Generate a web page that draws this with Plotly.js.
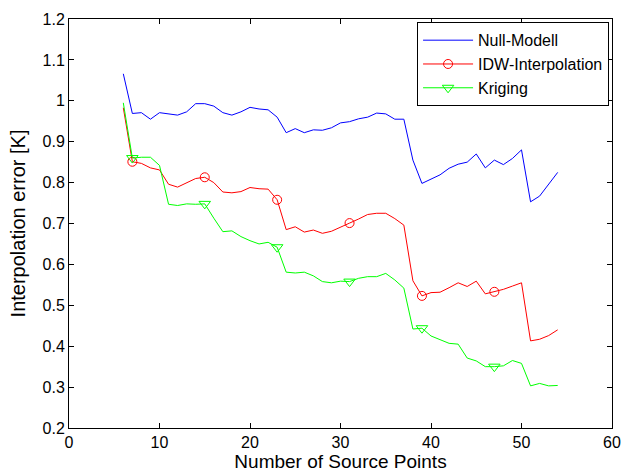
<!DOCTYPE html>
<html>
<head>
<meta charset="utf-8">
<script src="https://cdn.plot.ly/plotly-3.0.1.min.js"></script>
<style>html,body{margin:0;padding:0;background:#fff;}#chart{width:625px;height:473px;}</style>
</head>
<body>
<div id="chart"></div>
<script>
var sourcePoints = [6,7,8,9,10,11,12,13,14,15,16,17,18,19,20,21,22,23,24,25,26,27,28,29,30,31,32,33,34,35,36,37,38,39,40,41,42,43,44,45,46,47,48,49,50,51,52,53,54];
var nullModell = [1.066,0.969,0.971,0.955,0.971,0.968,0.965,0.973,0.993,0.993,0.987,0.971,0.965,0.973,0.984,0.980,0.978,0.960,0.922,0.932,0.922,0.929,0.928,0.934,0.946,0.949,0.956,0.960,0.970,0.968,0.955,0.955,0.855,0.798,0.808,0.819,0.835,0.845,0.850,0.870,0.836,0.855,0.844,0.859,0.880,0.753,0.767,0.796,0.825];
var idw = [0.983,0.851,0.847,0.836,0.831,0.796,0.789,0.800,0.810,0.813,0.800,0.777,0.775,0.778,0.788,0.785,0.784,0.758,0.685,0.692,0.679,0.684,0.676,0.681,0.692,0.701,0.711,0.722,0.725,0.725,0.712,0.696,0.560,0.523,0.531,0.532,0.543,0.555,0.546,0.559,0.528,0.533,0.539,0.547,0.555,0.413,0.417,0.426,0.440];
var kriging = [0.995,0.860,0.862,0.862,0.842,0.747,0.744,0.748,0.747,0.748,0.713,0.680,0.682,0.668,0.658,0.650,0.654,0.642,0.581,0.579,0.581,0.572,0.558,0.555,0.559,0.558,0.566,0.570,0.570,0.578,0.562,0.542,0.442,0.444,0.425,0.415,0.407,0.405,0.371,0.364,0.350,0.350,0.352,0.365,0.358,0.303,0.309,0.303,0.304];
var markerPoints = [7,15,23,31,39,47];
var seriesNames = ['Null-Modell','IDW-Interpolation','Kriging'];
var xTicks = [0,10,20,30,40,50,60];
var yTicks = [0.2,0.3,0.4,0.5,0.6,0.7,0.8,0.9,1,1.1,1.2];

function pick(arr){ return markerPoints.map(function(p){ return arr[sourcePoints.indexOf(p)]; }); }

var BLUE='#0000ff', RED='#ff0000', GREEN='#00ff00';
var traces = [
  {x:sourcePoints, y:nullModell, mode:'lines', line:{color:BLUE,width:1}, name:seriesNames[0], showlegend:true},
  {x:sourcePoints, y:idw, mode:'lines', line:{color:RED,width:1}, showlegend:false, hoverinfo:'skip'},
  {x:markerPoints, y:pick(idw), mode:'markers', marker:{symbol:'circle-open',size:9,color:RED,line:{width:1}}, showlegend:false},
  {x:[null], y:[null], mode:'lines+markers', line:{color:RED,width:1}, marker:{symbol:'circle-open',size:9,color:RED,line:{width:1}}, name:seriesNames[1]},
  {x:sourcePoints, y:kriging, mode:'lines', line:{color:GREEN,width:1}, showlegend:false, hoverinfo:'skip'},
  {x:markerPoints, y:pick(kriging), mode:'markers', marker:{symbol:'triangle-down-open',size:10,color:GREEN,line:{width:1}}, showlegend:false},
  {x:[null], y:[null], mode:'lines+markers', line:{color:GREEN,width:1}, marker:{symbol:'triangle-down-open',size:10,color:GREEN,line:{width:1}}, name:seriesNames[2]}
];

var axisCommon = {
  showgrid:false, zeroline:false, showline:true, linecolor:'#000', linewidth:1,
  mirror:'ticks', ticks:'inside', ticklen:5, tickcolor:'#000', tickwidth:1,
  tickfont:{family:'Liberation Sans, Arial, sans-serif', size:16, color:'#000'}
};
var layout = {
  width:625, height:473,
  margin:{l:69, r:13, t:19, b:45},
  paper_bgcolor:'#fff', plot_bgcolor:'#fff',
  font:{family:'Liberation Sans, Arial, sans-serif', color:'#000'},
  xaxis: Object.assign({}, axisCommon, {
    range:[0,60], tickvals:xTicks, ticktext:xTicks.map(String),
    title:{text:'Number of Source Points', font:{size:19, color:'#000'}, standoff:4}
  }),
  yaxis: Object.assign({}, axisCommon, {
    range:[0.2,1.2], tickvals:yTicks, ticktext:yTicks.map(String),
    title:{text:'Interpolation error [K]', font:{size:20, color:'#000'}, standoff:11}
  }),
  legend:{x:0.641, y:0.992, xanchor:'left', yanchor:'top', bordercolor:'#000', borderwidth:1,
    bgcolor:'#fff', font:{size:16, color:'#000'}, tracegroupgap:0, itemwidth:50},
  showlegend:true
};
Plotly.newPlot('chart', traces, layout, {displayModeBar:false, staticPlot:true});
</script>
</body>
</html>
